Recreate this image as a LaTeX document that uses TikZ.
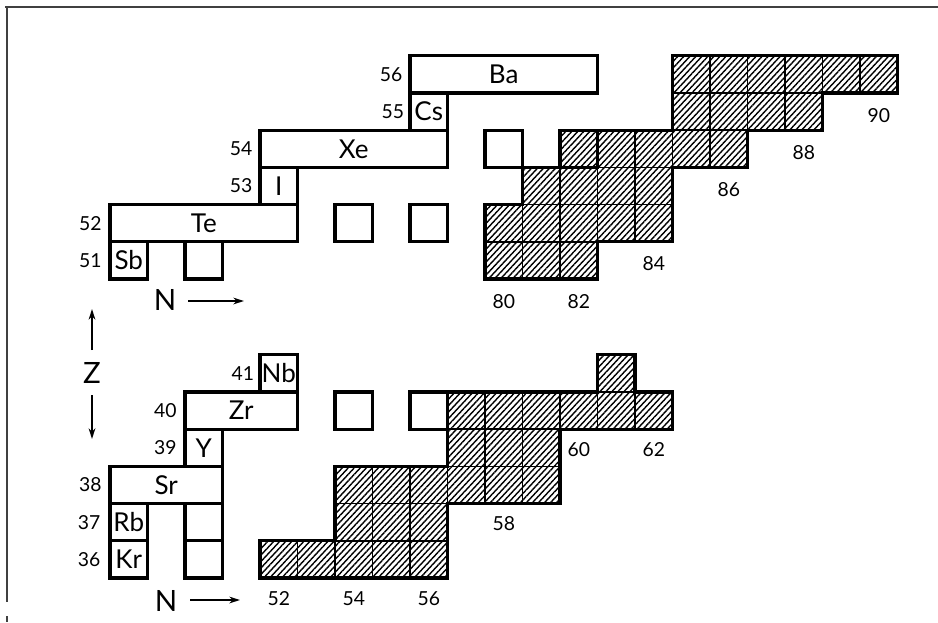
\documentclass[tikz,border=0pt]{standalone}
\usepackage{fontspec}
\setmainfont{Lato}
\usetikzlibrary{patterns.meta,arrows.meta}
\begin{document}
\begin{tikzpicture}[x=0.75pt,y=-0.75pt,
  hatch/.style={pattern={Lines[angle=47,distance=3.3pt,line width=1.05pt]}, draw, line width=1.3pt},
  outline/.style={draw, line width=2.3pt, line join=miter},
  elbox/.style={draw, line width=2.3pt, minimum height=27.9pt, minimum width=28.125pt, inner sep=0pt, outer sep=0pt, anchor=south west, font=\fontsize{19.5}{19.5}\selectfont},
  zlab/.style={anchor=east, inner sep=0pt, font=\fontsize{14.5}{14.5}\selectfont},
  nlab/.style={inner sep=0pt, font=\fontsize{14.5}{14.5}\selectfont},
  axlab/.style={inner sep=0pt, font=\fontsize{22}{22}\selectfont},
  arr/.style={line width=1.5pt, -{Stealth[length=8pt,width=5pt]}},
  frame/.style={line width=1pt, black!75}
]
\useasboundingbox (0,0) rectangle (938,622);
\fill[white] (0,0) rectangle (938,622);
% frame (scan edge)
\coordinate (f1) at (5,7); \coordinate (f2) at (938,7);
\coordinate (f3) at (7,7); \coordinate (f4) at (7,602);
\coordinate (f5) at (7,616); \coordinate (f6) at (7,622);
\draw[frame] (f1) -- (f2);
\draw[frame] (f3) -- (f4);
\draw[frame] (f5) -- (f6);

% ---------------- upper part (Z = 51..56, N = 70 + k) ----------------
\begin{scope}[shift={(110,279)}, x=28.125pt, y=27.9pt]
  % hatched (unstable) cells
  \foreach \k/\r in {10/0,11/0,12/0,
                     10/1,11/1,12/1,13/1,14/1,
                     11/2,12/2,13/2,14/2,
                     12/3,13/3,14/3,15/3,16/3,
                     15/4,16/4,17/4,18/4,
                     15/5,16/5,17/5,18/5,19/5,20/5}
    \draw[hatch] (\k,\r) rectangle ++(1,1);
  \draw[outline] (10,0) -- (13,0) -- (13,1) -- (15,1) -- (15,3) -- (17,3) -- (17,4)
     -- (19,4) -- (19,5) -- (21,5) -- (21,6) -- (15,6) -- (15,4) -- (12,4) -- (12,3)
     -- (11,3) -- (11,2) -- (10,2) -- cycle;
  \draw[outline] (12,3) rectangle (13,4);
  % stable nuclides
  \node[elbox] (Sb) at (0,0) {Sb};
  \node[elbox] (Sb123) at (2,0) {};
  \node[elbox, minimum width=140.625pt] (Te) at (0,1) {Te};
  \node[elbox] (Te128) at (6,1) {};
  \node[elbox] (Te130) at (8,1) {};
  \node[elbox] (I) at (4,2) {I};
  \node[elbox, minimum width=140.625pt] (Xe) at (4,3) {Xe};
  \node[elbox] (Xe134) at (10,3) {};
  \node[elbox] (Cs) at (8,4) {Cs};
  \node[elbox, minimum width=140.625pt] (Ba) at (8,5) {Ba};
  % Z labels
  \node[zlab] (z51) at (-0.22,0.5) {51};
  \node[zlab] (z52) at (-0.22,1.5) {52};
  \node[zlab] (z53) at (3.8,2.5) {53};
  \node[zlab] (z54) at (3.8,3.5) {54};
  \node[zlab] (z55) at (7.85,4.5) {55};
  \node[zlab] (z56) at (7.8,5.5) {56};
  % N labels
  \node[nlab] (n80) at (10.5,-0.62) {80};
  \node[nlab] (n82) at (12.5,-0.62) {82};
  \node[nlab] (n84) at (14.5,0.42) {84};
  \node[nlab] (n86) at (16.5,2.4) {86};
  \node[nlab] (n88) at (18.5,3.4) {88};
  \node[nlab] (n90) at (20.5,4.4) {90};
\end{scope}

% ---------------- lower part (Z = 36..41, N = 48 + k) ----------------
\begin{scope}[shift={(110,578)}, x=28.125pt, y=27.9pt]
  \foreach \k/\r in {4/0,5/0,6/0,7/0,8/0,
                     6/1,7/1,8/1,
                     6/2,7/2,8/2,9/2,10/2,11/2,
                     9/3,10/3,11/3,
                     9/4,10/4,11/4,12/4,13/4,14/4,
                     13/5}
    \draw[hatch] (\k,\r) rectangle ++(1,1);
  \draw[outline] (4,0) -- (9,0) -- (9,2) -- (12,2) -- (12,4) -- (15,4) -- (15,5)
     -- (14,5) -- (14,6) -- (13,6) -- (13,5) -- (9,5) -- (9,3) -- (6,3) -- (6,1)
     -- (4,1) -- cycle;
  \node[elbox] (Kr) at (0,0) {Kr};
  \node[elbox] (Kr86) at (2,0) {};
  \node[elbox] (Rb) at (0,1) {Rb};
  \node[elbox] (Rb87) at (2,1) {};
  \node[elbox, minimum width=84.375pt] (Sr) at (0,2) {Sr};
  \node[elbox] (Y) at (2,3) {Y};
  \node[elbox, minimum width=84.375pt] (Zr) at (2,4) {Zr};
  \node[elbox] (Zr94) at (6,4) {};
  \node[elbox] (Zr96) at (8,4) {};
  \node[elbox] (Nb) at (4,5) {Nb};
  % Z labels
  \node[zlab] (z36) at (-0.25,0.5) {36};
  \node[zlab] (z37) at (-0.25,1.5) {37};
  \node[zlab] (z38) at (-0.22,2.5) {38};
  \node[zlab] (z39) at (1.78,3.5) {39};
  \node[zlab] (z40) at (1.78,4.5) {40};
  \node[zlab] (z41) at (3.85,5.5) {41};
  % N labels
  \node[nlab] (n52) at (4.5,-0.55) {52};
  \node[nlab] (n54) at (6.5,-0.55) {54};
  \node[nlab] (n56) at (8.5,-0.55) {56};
  \node[nlab] (n58) at (10.5,1.45) {58};
  \node[nlab] (n60) at (12.5,3.45) {60};
  \node[nlab] (n62) at (14.5,3.45) {62};
\end{scope}

% axis labels and arrows
\node[axlab] (Ntop) at (165,300) {N};
\coordinate (Nta) at (188,301); \coordinate (Ntb) at (244,301);
\draw[arr] (Nta) -- (Ntb);
\node[axlab] (Nbot) at (166,601) {N};
\coordinate (Nba) at (190,600); \coordinate (Nbb) at (240,600);
\draw[arr] (Nba) -- (Nbb);
\node[axlab] (Zlab) at (92,373) {Z};
\coordinate (Zua) at (92,350); \coordinate (Zub) at (92,309);
\draw[arr] (Zua) -- (Zub);
\coordinate (Zda) at (92,395); \coordinate (Zdb) at (92,439);
\draw[arr] (Zda) -- (Zdb);
\end{tikzpicture}
\end{document}
